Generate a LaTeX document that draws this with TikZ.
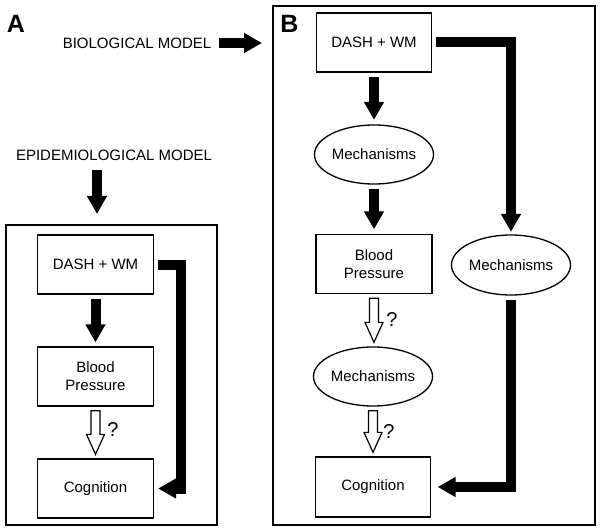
\documentclass[tikz,border=0pt]{standalone}
\usepackage{fontspec}
\setmainfont{Liberation Sans}
\usetikzlibrary{arrows.meta,shapes.geometric,calc}
\newcommand{\hollowdown}[2]{%
  \draw[line width=1.2pt,line join=miter,fill=white] let \p1=(#1), \p2=(#2) in
    (\x1-4.5pt,\y1) -- (\x1-4.5pt,\y2+20pt) -- (\x1-9pt,\y2+20pt) -- (\x1,\y2)
    -- (\x1+9pt,\y2+20pt) -- (\x1+4.5pt,\y2+20pt) -- (\x1+4.5pt,\y1) -- cycle;}
\begin{document}
\begin{tikzpicture}[x=1pt,y=-1pt,
  box/.style={draw,line width=1.3pt,minimum width=116pt,minimum height=59pt,inner sep=0pt,
    font=\fontsize{15}{18}\selectfont,align=center},
  ell/.style={draw,ellipse,line width=1.3pt,minimum width=116pt,minimum height=59pt,inner sep=0pt,
    font=\fontsize{15}{18}\selectfont},
  frame/.style={draw,line width=2pt,inner sep=0pt},
  lbl/.style={font=\fontsize{15}{18}\selectfont,inner sep=0pt},
  panel/.style={font=\fontsize{25}{25}\selectfont\bfseries,inner sep=0pt},
  qmark/.style={font=\fontsize{20}{20}\selectfont,inner sep=0pt},
  fat/.style={line width=10pt,line join=miter,-{Triangle[width=19pt,length=18pt]}},
]
\useasboundingbox (0,0) rectangle (603,532);
% frames
\node[frame,minimum width=211pt,minimum height=300pt] (frameA) at (111.5,375) {};
\node[frame,minimum width=322pt,minimum height=519pt] (frameB) at (434,265.5) {};
% labels
\node[panel] (labA) at (16,24) {A};
\node[panel] (labB) at (289.5,24) {B};
\node[lbl] (bio) at (137,43) {BIOLOGICAL MODEL};
\node[lbl] (epi) at (114,155) {EPIDEMIOLOGICAL MODEL};
% panel A
\node[box] (dashA) at (95.5,264.5) {DASH + WM};
\node[box] (bpA) at (95.5,376.5) {Blood\\Pressure};
\node[box] (cogA) at (95.5,488.5) {Cognition};
% panel B
\node[box,minimum width=115pt] (dashB) at (374,42.5) {DASH + WM};
\node[ell] (mechB1) at (374,154.5) {Mechanisms};
\node[box] (bpB) at (374,264) {Blood\\Pressure};
\node[ell,minimum width=117pt] (mechB2) at (373,376.5) {Mechanisms};
\node[box,minimum width=115pt,minimum height=60pt] (cogB) at (373,487) {Cognition};
\node[ell,minimum width=115pt,minimum height=60pt] (mechR) at (511,265) {Mechanisms};
% question marks
\node[qmark] (qA) at (113,430) {?};
\node[qmark] (qB1) at (392,320) {?};
\node[qmark] (qB2) at (389,432) {?};
% model arrows
\draw[fat] ($(bio.east)+(8,0)$) -- ($(frameB.west |- bio.east)+(-10,0)$);
\draw[fat] ($(epi.south -| dashA.center)+(1.5,9.5)$) -- ($(frameA.north -| dashA.center)+(1.5,-10)$);
% panel A arrows
\draw[fat] ($(dashA.south)+(0,4)$) -- ($(bpA.north)+(0,-4)$);
\hollowdown{$(bpA.south)+(0,4)$}{$(cogA.north)+(0,-4)$}
\draw[fat] ($(dashA.east)+(4,0)$) -- ++(22.5,0) |- ($(cogA.east)+(4,0)$);
% panel B arrows
\draw[fat] ($(dashB.south)+(0,4.5)$) -- ($(mechB1.north)+(0,-4.5)$);
\draw[fat] ($(mechB1.south)+(0,4.5)$) -- ($(bpB.north)+(0,-4.5)$);
\hollowdown{$(bpB.south)+(0,4)$}{$(mechB2.north)+(0,-4)$}
\hollowdown{$(mechB2.south)+(0,4)$}{$(cogB.north)+(0,-4)$}
\draw[fat] ($(dashB.east)+(4,0)$) -| ($(mechR.north)+(0,-2.5)$);
\draw[fat] ($(mechR.south)+(0,4)$) |- ($(cogB.east)+(6.5,0)$);
\end{tikzpicture}
\end{document}
